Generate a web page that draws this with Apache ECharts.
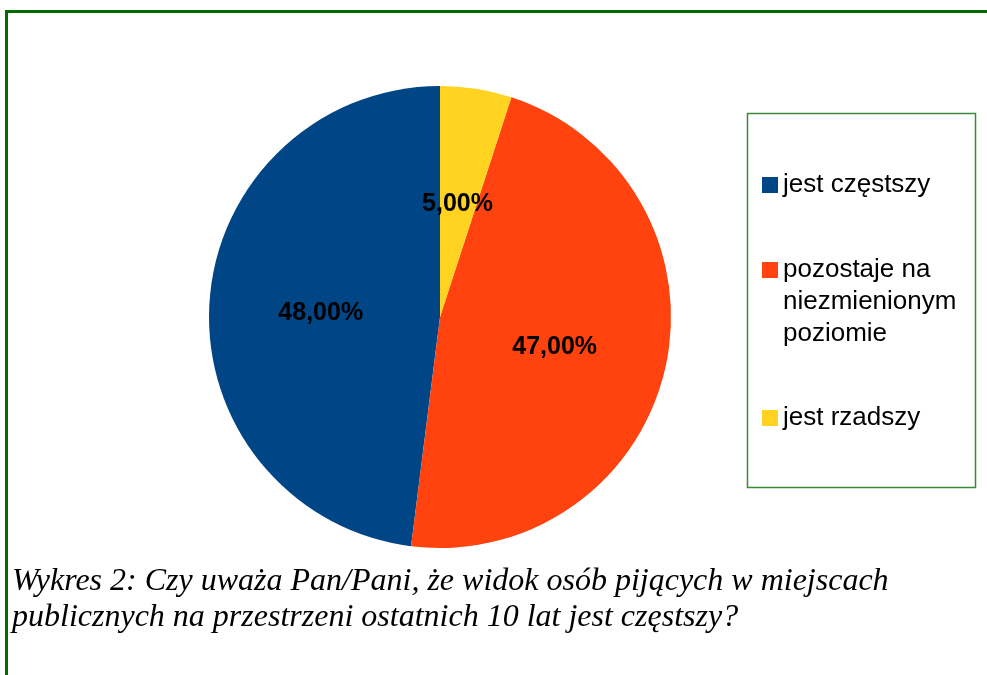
<!DOCTYPE html>
<html>
<head>
<meta charset="utf-8">
<script src="https://cdn.jsdelivr.net/npm/echarts@6/dist/echarts.min.js"></script>
<style>
  html, body { margin: 0; padding: 0; background: #fff; }
  #chart { width: 987px; height: 675px; }
</style>
</head>
<body>
<div id="chart"></div>
<script>
// dane wykresu
const categories = ['jest częstszy', 'pozostaje na niezmienionym poziomie', 'jest rzadszy'];
// podpisy legendy (puste linie na początku, żeby ikona stała przy pierwszym wierszu)
const legendLabels = ['jest częstszy', '\n\npozostaje na\nniezmienionym\npoziomie', 'jest rzadszy'];
const values = [48, 47, 5];
const colors = ['#004586', '#ff420e', '#ffd320'];
const caption = 'Wykres 2: Czy uważa Pan/Pani, że widok osób pijących w miejscach\npublicznych na przestrzeni ostatnich 10 lat jest częstszy?';

const chart = echarts.init(document.getElementById('chart'));

const legendTops = [169, 190, 402];
const legends = categories.map((name, i) => ({
  data: [name],
  orient: 'vertical',
  left: 762,
  top: legendTops[i],
  padding: 0,
  itemWidth: 16,
  itemHeight: 16,
  icon: 'rect',
  selectedMode: false,
  formatter: n => legendLabels[categories.indexOf(n)],
  textStyle: {
    fontFamily: 'Liberation Sans',
    fontSize: 26,
    lineHeight: 32,
    color: '#000'
  }
}));

const option = {
  animation: false,
  color: colors,
  title: {
    text: caption,
    left: 7,
    top: 559,
    textStyle: {
      fontFamily: 'Liberation Serif',
      fontStyle: 'italic',
      fontWeight: 'normal',
      fontSize: 32,
      lineHeight: 36,
      color: '#000'
    }
  },
  legend: legends,
  graphic: [
    { // ramka zewnętrzna
      type: 'rect',
      shape: { x: 6.5, y: 11.5, width: 1000, height: 700 },
      style: { fill: 'none', stroke: '#006b00', lineWidth: 3 },
      silent: true
    },
    { // ramka legendy
      type: 'rect',
      shape: { x: 747.5, y: 113.5, width: 228, height: 374 },
      style: { fill: 'none', stroke: '#3a8a3a', lineWidth: 1.5 },
      silent: true
    }
  ],
  series: [
    {
      type: 'pie',
      center: [440, 317],
      radius: [0, 231],
      startAngle: 90,
      clockwise: false,
      silent: true,
      label: {
        show: true,
        position: 'inside',
        offset: [-1, 4],
        fontFamily: 'Liberation Sans',
        fontWeight: 'bold',
        fontSize: 25,
        color: '#000',
        formatter: p => p.value.toFixed(2).replace('.', ',') + '%'
      },
      labelLine: { show: false },
      itemStyle: { borderWidth: 0 },
      data: categories.map((name, i) => ({ name, value: values[i] }))
    }
  ]
};

chart.setOption(option);
</script>
</body>
</html>
